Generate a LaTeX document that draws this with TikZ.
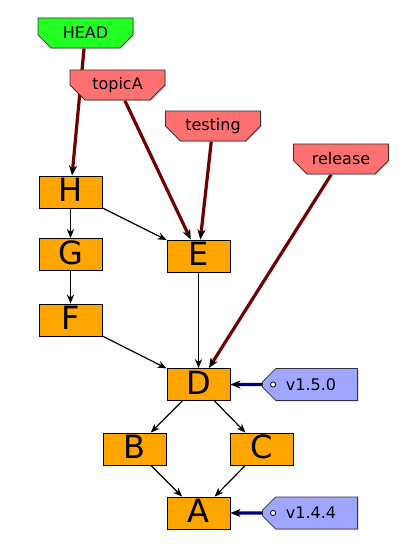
\documentclass[tikz,border=0pt]{standalone}
\usepackage{fontspec}
\setmainfont{DejaVu Sans}
\usepackage{tikz}
\usetikzlibrary{shapes.misc,arrows.meta,backgrounds,shadows}
\definecolor{commitfill}{RGB}{255,165,0}
\definecolor{headfill}{RGB}{34,255,34}
\definecolor{branchfill}{RGB}{255,112,112}
\definecolor{tagfill}{RGB}{160,166,255}
\definecolor{branchline}{RGB}{110,0,0}
\definecolor{tagline}{RGB}{0,0,128}

\begin{document}
\begin{tikzpicture}[x=0.5pt,y=-0.5pt]
						\tikzstyle{commit}=[rectangle,draw=black,fill=commitfill,minimum width=31.5pt,minimum height=16pt,inner sep=0pt,text depth=2pt,font=\fontsize{16}{16}\selectfont]
						\tikzstyle{label}=[chamfered rectangle,chamfered rectangle corners={south west,south east},chamfered rectangle xsep=5pt,draw=black!80,line width=0.4pt,minimum width=47.5pt,minimum height=15pt,inner sep=0pt,font=\fontsize{8}{8}\selectfont,drop shadow={shadow xshift=0.6pt,shadow yshift=-0.6pt,fill=black!35}]
						\tikzstyle{tag}=[chamfered rectangle,chamfered rectangle corners={north west,south west},chamfered rectangle xsep=4pt,draw=black!80,fill=tagfill,line width=0.4pt,minimum width=47.5pt,minimum height=16pt,inner sep=0pt,font=\fontsize{8}{8}\selectfont,drop shadow={shadow xshift=0.6pt,shadow yshift=-0.6pt,fill=black!35}]
						\tikzstyle{parent}=[-{Stealth[length=4.5pt,width=3.6pt,inset=1.4pt]},line width=0.6pt]
						\tikzstyle{ref}=[-{Stealth[black,length=5pt,width=4pt,inset=1.4pt]},line width=1.6pt,color=branchline]
						\useasboundingbox (0,0) rectangle (409,555);
						\node[commit](H) at (70.5,192) {H};
						\node[commit](G) at (70.5,254.5) {G};
						\node[commit](F) at (70.5,320) {F};
						\node[commit](E) at (198.5,256) {E};
						\node[commit](D) at (198.5,384.5) {D};
						\node[commit](B) at (134.5,449) {B};
						\node[commit](C) at (261.5,449) {C};
						\node[commit](A) at (198.5,513) {A};
						\node[label,fill=headfill](head) at (85.5,33) {HEAD};
						\node[label,fill=branchfill](topicA) at (117.5,85) {topicA};
						\node[label,fill=branchfill](testing) at (213,126) {testing};
						\node[label,fill=branchfill](release) at (341,159) {release};
						\node[tag](v150) at (310,384.5) {\hspace{1pt}v1.5.0};
						\node[tag](v144) at (310,513) {\hspace{1pt}v1.4.4};
						\draw[fill=white,line width=0.4pt] ([xshift=5.5pt]v150.west) circle (1.3pt);
						\draw[fill=white,line width=0.4pt] ([xshift=5.5pt]v144.west) circle (1.3pt);
						\begin{pgfonlayer}{background}
						\draw[parent](H) -- (G);
						\draw[parent](G) -- (F);
						\draw[parent](H) -- (E);
						\draw[parent](F) -- (D);
						\draw[parent](E) -- (D);
						\draw[parent](D) -- (B);
						\draw[parent](D) -- (C);
						\draw[parent](B) -- (A);
						\draw[parent](C) -- (A);
						\draw[ref](head) -- (H);
						\draw[ref](topicA) -- (E);
						\draw[ref](testing) -- (E);
						\draw[ref](release) -- (D);
						\draw[ref,color=tagline](v150) -- (D);
						\draw[ref,color=tagline](v144) -- (A);
						\end{pgfonlayer}
					\end{tikzpicture}
\end{document}
